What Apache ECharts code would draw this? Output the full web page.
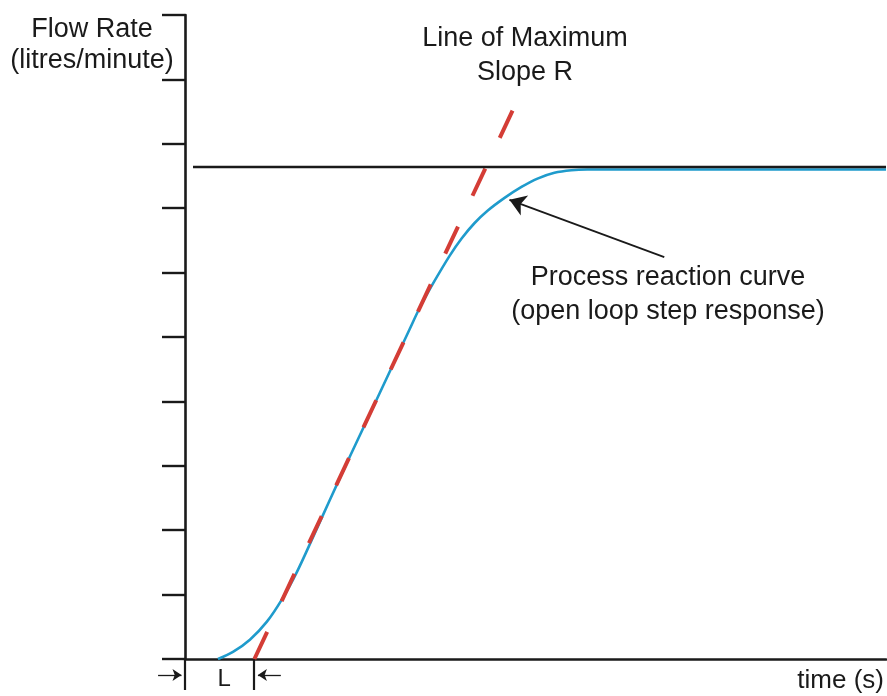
<!DOCTYPE html>
<html>
<head>
<meta charset="utf-8">
<script src="https://cdn.jsdelivr.net/npm/echarts@6/dist/echarts.min.js"></script>
<style>
html,body{margin:0;padding:0;background:#fff;}
#c{width:887px;height:696px;}
</style>
</head>
<body>
<div id="c"></div>
<script>
// ---- data (time in s, flow in litres/minute, arbitrary units) ----
const curveTime = [3.29, 4.79, 6.48, 8.18, 9.77, 11.17, 12.66, 14.46, 16.45, 18.45, 20.44, 22.43, 23.43, 24.73, 26.42, 27.62, 28.92, 30.21, 31.91, 33.60, 35.20, 36.89, 38.59, 40.18, 43.37, 70.0];
const curveFlow = [0.00, 0.11, 0.30, 0.58, 0.95, 1.35, 1.85, 2.47, 3.14, 3.80, 4.46, 5.12, 5.45, 5.82, 6.26, 6.53, 6.77, 6.96, 7.16, 7.33, 7.46, 7.55, 7.59, 7.60, 7.60, 7.60];
const steadyTime = [0.8, 70.0];
const steadyFlow = [7.64, 7.64];
const slopeTime = [6.93, 32.74];
const slopeFlow = [0.0, 8.525];
const deadTime = 6.88;           // L
const labelTime = [3.9];         // where "L" is written
const xRange = [0, 70];
const yRange = [0, 10];
const yStep = 1;
const pointerFrom = [47.86, 6.24];
const pointerTo = [32.4, 7.13];
const lArrowLeft = [[-2.69, -0.25], [-0.35, -0.25]];
const lArrowRight = [[9.57, -0.25], [7.28, -0.25]];

const zip = (a, b) => a.map((v, i) => [v, b[i]]);
const FONT = 'Liberation Sans, Arial, sans-serif';
const ink = '#1a1a1a';

const chart = echarts.init(document.getElementById('c'), null, {renderer: 'canvas'});
chart.setOption({
  animation: false,
  backgroundColor: '#fff',
  grid: {left: 185, right: 0, top: 15, bottom: 37, containLabel: false},
  xAxis: {
    type: 'value', min: xRange[0], max: xRange[1],
    name: 'time (s)', nameLocation: 'end', nameGap: -2,
    nameTextStyle: {fontFamily: FONT, fontSize: 26, color: ink, align: 'right', verticalAlign: 'top', padding: [9, 0, 0, 0]},
    axisLine: {show: true, onZero: false, lineStyle: {color: ink, width: 2.6}},
    axisTick: {show: true, inside: false, length: 31, customValues: [0, deadTime], lineStyle: {color: ink, width: 2.2}},
    axisLabel: {show: true, customValues: labelTime, formatter: () => 'L', margin: 8, fontFamily: FONT, fontSize: 24, color: ink},
    splitLine: {show: false}
  },
  yAxis: {
    type: 'value', min: yRange[0], max: yRange[1], interval: yStep,
    name: 'Flow Rate\n(litres/minute)', nameLocation: 'end', nameGap: 1,
    nameTextStyle: {fontFamily: FONT, fontSize: 27, lineHeight: 31, color: ink, align: 'center', verticalAlign: 'top', padding: [0, 186, 0, 0]},
    axisLine: {show: true, onZero: false, lineStyle: {color: ink, width: 2.6}},
    axisTick: {show: true, inside: false, length: 23, lineStyle: {color: ink, width: 2.4}},
    axisLabel: {show: false},
    splitLine: {show: false}
  },
  series: [
    {
      name: 'Process reaction curve', type: 'line', data: zip(curveTime, curveFlow),
      smooth: 0.35, showSymbol: false, z: 2,
      lineStyle: {color: '#1f9bcc', width: 2.6}
    },
    {
      name: 'Line of Maximum Slope R', type: 'line', data: zip(slopeTime, slopeFlow),
      showSymbol: false, z: 3,
      lineStyle: {color: '#d43d36', width: 4, type: [30, 34], cap: 'butt'}
    },
    {
      name: 'steady state', type: 'line', data: zip(steadyTime, steadyFlow),
      showSymbol: false, z: 4,
      lineStyle: {color: ink, width: 2.4}
    },
    {
      type: 'lines', coordinateSystem: 'cartesian2d', clip: false, z: 5,
      symbol: ['none', 'arrow'], symbolSize: [9, 16],
      lineStyle: {color: ink, width: 1.8, opacity: 1, curveness: 0},
      data: [{coords: [pointerFrom, pointerTo]}]
    },
    {
      type: 'lines', coordinateSystem: 'cartesian2d', clip: false, z: 5,
      symbol: ['none', 'arrow'], symbolSize: [6, 9],
      lineStyle: {color: ink, width: 1.3, opacity: 1, curveness: 0},
      data: [{coords: lArrowLeft}, {coords: lArrowRight}]
    }
  ],
  graphic: [
    {type: 'text', x: 525, y: 22, z: 10,
     style: {text: 'Line of Maximum\nSlope R', font: '27px ' + FONT, fill: ink, align: 'center', verticalAlign: 'top', lineHeight: 34}},
    {type: 'text', x: 668, y: 261, z: 10,
     style: {text: 'Process reaction curve\n(open loop step response)', font: '27px ' + FONT, fill: ink, align: 'center', verticalAlign: 'top', lineHeight: 34}}
  ]
});
</script>
</body>
</html>
